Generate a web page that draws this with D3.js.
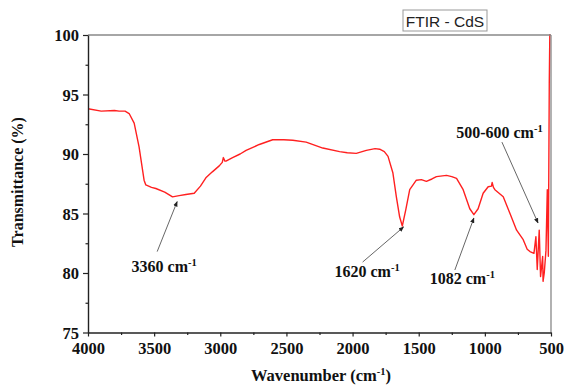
<!DOCTYPE html>
<html>
<head>
<meta charset="utf-8">
<script src="https://cdn.jsdelivr.net/npm/d3@7"></script>
<style>
  html, body { margin: 0; padding: 0; background: #fff; }
  svg { display: block; }
</style>
</head>
<body>
<svg id="chart" width="566" height="385"></svg>
<script>
// FTIR spectrum of CdS: wavenumber (cm-1) vs transmittance (%)
const wavenumber = [4000, 3900, 3800, 3765, 3720, 3689, 3651, 3614, 3576, 3563, 3520, 3487, 3420, 3361, 3311, 3260, 3197, 3150, 3109, 3060, 3008, 2985, 2977, 2965, 2957, 2907, 2850, 2805, 2705, 2604, 2520, 2452, 2351, 2225, 2098, 2040, 1972, 1896, 1830, 1795, 1760, 1732, 1695, 1669, 1644, 1624, 1598, 1568, 1518, 1480, 1442, 1400, 1366, 1290, 1250, 1214, 1164, 1114, 1083, 1051, 1013, 975, 950, 945, 935, 924, 861, 810, 760, 710, 680, 659, 629, 614, 604, 589, 579, 563, 560, 551, 538, 528, 520, 513, 508, 505, 502];
const transmittance = [93.8, 93.6, 93.65, 93.6, 93.6, 93.4, 92.6, 90.6, 87.8, 87.4, 87.2, 87.1, 86.8, 86.4, 86.5, 86.6, 86.7, 87.3, 88.0, 88.5, 89.0, 89.3, 89.7, 89.4, 89.4, 89.7, 90.0, 90.3, 90.8, 91.2, 91.2, 91.15, 91.0, 90.5, 90.2, 90.1, 90.05, 90.3, 90.45, 90.4, 90.2, 89.8, 88.4, 86.4, 84.7, 83.95, 85.3, 87.0, 87.8, 87.85, 87.7, 87.9, 88.1, 88.2, 88.1, 87.95, 87.0, 85.4, 84.9, 85.4, 86.7, 87.25, 87.3, 87.6, 87.2, 87.0, 86.4, 85.0, 83.6, 82.8, 82.0, 81.8, 81.65, 83.05, 80.3, 83.6, 79.7, 81.4, 79.3, 80.0, 81.9, 87.0, 81.4, 96, 101, 101, 101];

const xTicks = [4000, 3500, 3000, 2500, 2000, 1500, 1000, 500];
const yTicks = [75, 80, 85, 90, 95, 100];

// peak annotations: arrow tip, arrow tail and label anchor, in data units
const peakLabels = ["3360", "1620", "1082", "500-600"];
const peakTip = [[3326, 86.0], [1614, 83.87], [1083, 84.62], [598, 84.2]];
const peakTail = [[3477, 81.8], [1924, 80.92], [1227, 80.25], [871, 91.0]];
const peakText = [[3424, 80.08], [1890, 79.66], [1170, 79.08], [890, 91.35]];

const svg = d3.select("#chart");
const plotL = 88, plotR = 551, plotT = 35, plotB = 332.5;

const x = d3.scaleLinear().domain([4000, 500]).range([plotL, plotR]);
const y = d3.scaleLinear().domain([75, 100]).range([plotB, plotT]);

svg.append("rect").attr("width", 566).attr("height", 385).attr("fill", "#fff");

const defs = svg.append("defs");
defs.append("clipPath").attr("id", "plotClip")
  .append("rect").attr("x", plotL).attr("y", plotT - 1)
  .attr("width", plotR - plotL).attr("height", plotB - plotT + 1);

defs.append("marker")
  .attr("id", "arrowHead").attr("viewBox", "0 0 10 10")
  .attr("refX", 9).attr("refY", 5)
  .attr("markerWidth", 6).attr("markerHeight", 6)
  .attr("orient", "auto")
  .append("path").attr("d", "M0,1 L10,5 L0,9 Z").attr("fill", "#222");

// spectrum line
const points = wavenumber.map((w, i) => [w, transmittance[i]]);
svg.append("path")
  .datum(points)
  .attr("clip-path", "url(#plotClip)")
  .attr("fill", "none")
  .attr("stroke", "#ff2020")
  .attr("stroke-width", 1.4)
  .attr("stroke-linejoin", "round")
  .attr("d", d3.line().x(d => x(d[0])).y(d => y(d[1])));

// frame: top and right edges
svg.append("line").attr("x1", plotL).attr("x2", plotR).attr("y1", plotT).attr("y2", plotT)
  .attr("stroke", "#888").attr("stroke-width", 1.3);
svg.append("line").attr("x1", plotR).attr("x2", plotR).attr("y1", plotT).attr("y2", plotB)
  .attr("stroke", "#888").attr("stroke-width", 1.3);

const tickFont = "'Liberation Serif', 'Times New Roman', serif";

// bottom axis
const xAxis = svg.append("g").attr("transform", `translate(0,${plotB})`)
  .call(d3.axisBottom(x).tickValues(xTicks).tickSize(4).tickSizeOuter(0).tickPadding(5).tickFormat(d3.format("d")));
svg.append("g").attr("transform", `translate(0,${plotB})`)
  .call(d3.axisBottom(x).tickValues(d3.range(3750, 500, -500)).tickSize(2.5).tickSizeOuter(0).tickFormat(""))
  .call(g => g.select(".domain").remove());

// left axis
const yAxis = svg.append("g").attr("transform", `translate(${plotL},0)`)
  .call(d3.axisLeft(y).tickValues(yTicks).tickSize(5).tickSizeOuter(0).tickPadding(4));
svg.append("g").attr("transform", `translate(${plotL},0)`)
  .call(d3.axisLeft(y).tickValues([77.5, 82.5, 87.5, 92.5, 97.5]).tickSize(2.5).tickSizeOuter(0).tickFormat(""))
  .call(g => g.select(".domain").remove());

svg.selectAll(".domain").attr("stroke", "#222").attr("stroke-width", 1.4);
svg.selectAll(".tick line").attr("stroke", "#222").attr("stroke-width", 1.2);
svg.selectAll(".tick text")
  .attr("font-family", tickFont).attr("font-weight", "bold")
  .attr("font-size", 16.5).attr("fill", "#111");
xAxis.selectAll(".tick text").attr("dy", "0.78em");
yAxis.selectAll(".tick text").attr("dy", "0.34em");

// axis titles
svg.append("text")
  .attr("transform", `translate(23,182) rotate(-90)`)
  .attr("text-anchor", "middle")
  .attr("font-family", tickFont).attr("font-weight", "bold").attr("font-size", 16)
  .attr("fill", "#111")
  .text("Transmittance (%)");

const xTitle = svg.append("text")
  .attr("x", 321).attr("y", 381)
  .attr("text-anchor", "middle")
  .attr("font-family", tickFont).attr("font-weight", "bold").attr("font-size", 16.5)
  .attr("fill", "#111");
xTitle.append("tspan").text("Wavenumber (cm");
xTitle.append("tspan").attr("font-size", 10.5).attr("dy", -6).text("-1");
xTitle.append("tspan").attr("dy", 6).text(")");

// peak annotations
peakLabels.forEach((lab, i) => {
  svg.append("line")
    .attr("x1", x(peakTail[i][0])).attr("y1", y(peakTail[i][1]))
    .attr("x2", x(peakTip[i][0])).attr("y2", y(peakTip[i][1]))
    .attr("stroke", "#555").attr("stroke-width", 0.9)
    .attr("marker-end", "url(#arrowHead)");
  const t = svg.append("text")
    .attr("x", x(peakText[i][0])).attr("y", y(peakText[i][1]))
    .attr("text-anchor", "middle")
    .attr("font-family", tickFont).attr("font-weight", "bold").attr("font-size", 16)
    .attr("fill", "#111");
  t.append("tspan").text(lab + " cm");
  t.append("tspan").attr("font-size", 10.5).attr("dy", -6).text("-1");
});

// legend box
const legend = svg.append("g");
legend.append("rect").attr("x", 403).attr("y", 10).attr("width", 84).attr("height", 21)
  .attr("fill", "#fff").attr("stroke", "#999").attr("stroke-width", 1);
legend.append("text").attr("x", 445).attr("y", 26.5)
  .attr("text-anchor", "middle")
  .attr("font-family", "'Liberation Sans', Arial, sans-serif").attr("font-size", 15.5)
  .attr("fill", "#222")
  .text("FTIR - CdS");
</script>
</body>
</html>
